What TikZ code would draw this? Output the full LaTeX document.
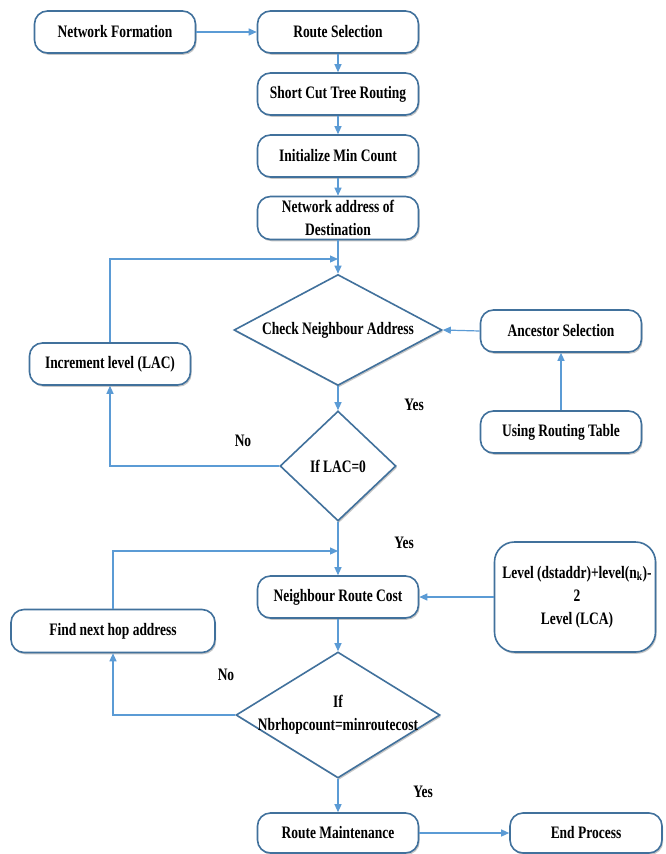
\documentclass[tikz,border=0pt]{standalone}
\usepackage{fontspec}
\setmainfont{Liberation Serif}[FakeStretch=0.77]
\usetikzlibrary{shapes.geometric,arrows.meta,shadows}
\definecolor{bord}{HTML}{41719C}
\definecolor{conn}{HTML}{5B9BD5}
\tikzset{
  sh/.style={drop shadow={shadow xshift=1.2pt,shadow yshift=-1.8pt,fill=black,opacity=0.22}},
  proc/.style={draw=bord,line width=1.6pt,fill=white,rounded corners=13pt,sh,
    minimum width=161pt,minimum height=42pt,inner sep=0pt,align=center,
    font=\fontsize{17.5}{23}\selectfont\bfseries},
  dec/.style={draw=bord,line width=1.6pt,fill=white,diamond,sh,inner sep=0pt},
  txt/.style={inner sep=0pt,align=center,font=\fontsize{17.5}{23}\selectfont\bfseries},
  conn/.style={draw=conn,line width=1.2pt,-{Triangle[length=8pt,width=7pt]}},
  plain/.style={draw=conn,line width=1.2pt}
}
\begin{document}
\begin{tikzpicture}[x=1pt,y=-1pt]
\useasboundingbox[fill=white] (0,0) rectangle (666,854);
% boxes
\node[proc] (nf) at (115,32) {Network Formation};
\node[proc] (rs) at (338,32) {Route Selection};
\node[proc] (sc) at (338,94) {Short Cut Tree Routing};
\node[proc] (im) at (338,156) {Initialize Min Count};
\node[proc,minimum height=43pt] (na) at (338,218) {Network address of\\Destination};
\node[dec,minimum width=208pt,minimum height=111pt] (cn) at (338,330) {};
\node[txt] (cnt) at (338,330) {Check Neighbour Address};
\node[proc] (as) at (561,331) {Ancestor Selection};
\node[proc] (urt) at (561,432) {Using Routing Table};
\node[proc] (inc) at (110,364) {Increment level (LAC)};
\node[dec,minimum width=116pt,minimum height=110pt] (lac) at (338,466) {};
\node[txt] (lact) at (338,466) {If LAC=0};
\node[proc] (nrc) at (338,597) {Neighbour Route Cost};
\node[proc,rounded corners=20pt,minimum width=161pt,minimum height=110pt] (lvl) at (575,597) {};
\node[txt] (lvlt) at (577,597) {Level (dstaddr)+level(n\textsubscript{k})-\\2\\Level (LCA)};
\node[proc,minimum width=204pt,minimum height=43pt] (fnh) at (113,631) {Find next hop address};
\node[dec,minimum width=204pt,minimum height=126pt] (nb) at (338,715) {};
\node[txt] (nbt) at (338,715) {If\\Nbrhopcount=minroutecost};
\node[proc,minimum height=40pt] (rm) at (338,833) {Route Maintenance};
\node[proc,minimum width=152pt,minimum height=40pt] (ep) at (586,833) {End Process};
% labels
\node[txt] (y1) at (414,405) {Yes};
\node[txt] (n1) at (243,441) {No};
\node[txt] (y2) at (404,543) {Yes};
\node[txt] (n2) at (226,675) {No};
\node[txt] (y3) at (423,792) {Yes};
% junctions
\coordinate (j1) at (338,259);
\coordinate (j2) at (338,551);
% connectors
\draw[conn] (nf.east) -- (rs.west);
\draw[conn] (rs.south) -- (sc.north);
\draw[conn] (sc.south) -- (im.north);
\draw[conn] (im.south) -- (na.north);
\draw[conn] (na.south) -- (cn.north);
\draw[conn] (inc.north) |- (j1);
\draw[conn] (as.west) -- (cn.east);
\draw[conn] (urt.north) -- (as.south);
\draw[conn] (cn.south) -- (lac.north);
\draw[conn] (lac.west) -| (inc.south);
\draw[conn] (lac.south) -- (nrc.north);
\draw[conn] (fnh.north) |- (j2);
\draw[conn] (lvl.west) -- (nrc.east);
\draw[conn] (nrc.south) -- (nb.north);
\draw[conn] (nb.west) -| (fnh.south);
\draw[conn] (nb.south) -- (rm.north);
\draw[conn] (rm.east) -- (ep.west);
\end{tikzpicture}
\end{document}
